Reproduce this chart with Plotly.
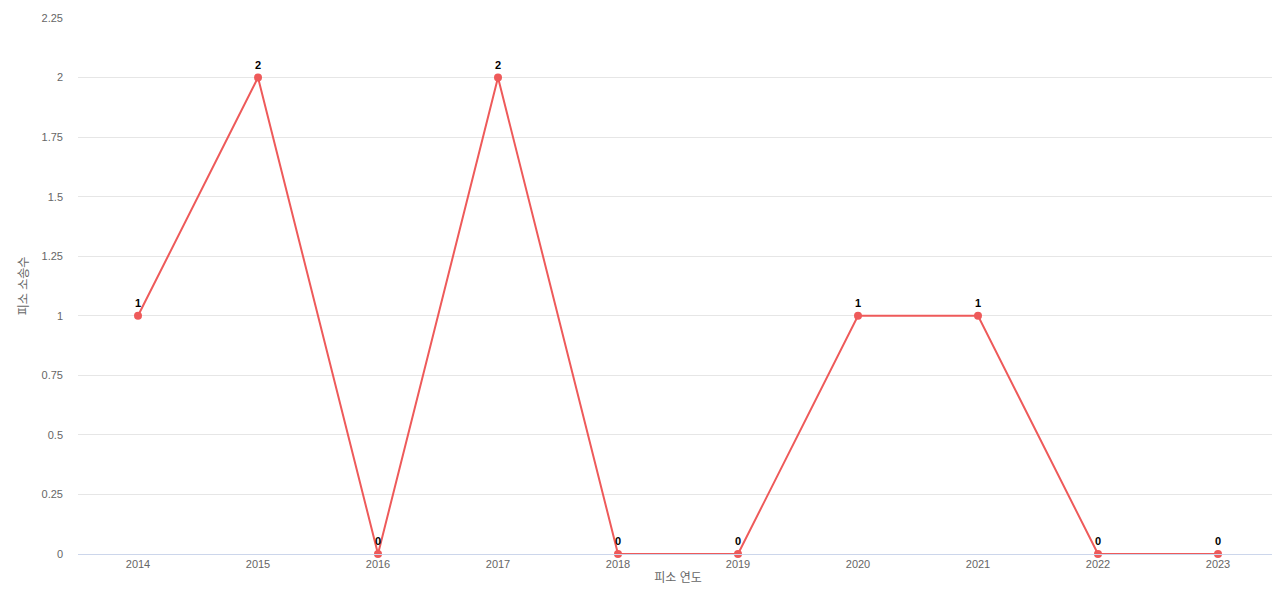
import plotly.graph_objects as go

years = ["2014", "2015", "2016", "2017", "2018", "2019", "2020", "2021", "2022", "2023"]
counts = [1, 2, 0, 2, 0, 0, 1, 1, 0, 0]

fig = go.Figure(go.Scatter(
    x=years, y=counts, mode="lines+markers+text",
    text=["<b>%d</b>" % c for c in counts], textposition="top center",
    textfont=dict(size=11, color="#000000", family="Liberation Sans"),
    line=dict(color="#ee5a5a", width=2),
    marker=dict(color="#ee5a5a", size=8),
    cliponaxis=False, hoverinfo="x+y",
))

fig.update_layout(
    width=1280, height=600,
    margin=dict(l=70, r=10, t=10, b=54),
    plot_bgcolor="white", paper_bgcolor="white",
    font=dict(family="Liberation Sans, Noto Sans CJK KR", size=11, color="#666666"),
    showlegend=False,
    xaxis=dict(type="category", range=[-0.5, 9.5], showgrid=False, automargin=False,
               showline=True, linecolor="#ccd6eb", ticks="",
               title=dict(text="피소 연도", font=dict(size=12), standoff=4)),
    yaxis=dict(range=[0, 2.25], dtick=0.25, gridcolor="#e6e6e6", automargin=False,
               zeroline=False, ticks="", ticklabelstandoff=14,
               title=dict(text="피소 소송수", font=dict(size=12), standoff=10)),
)

fig.write_html("out.html")
